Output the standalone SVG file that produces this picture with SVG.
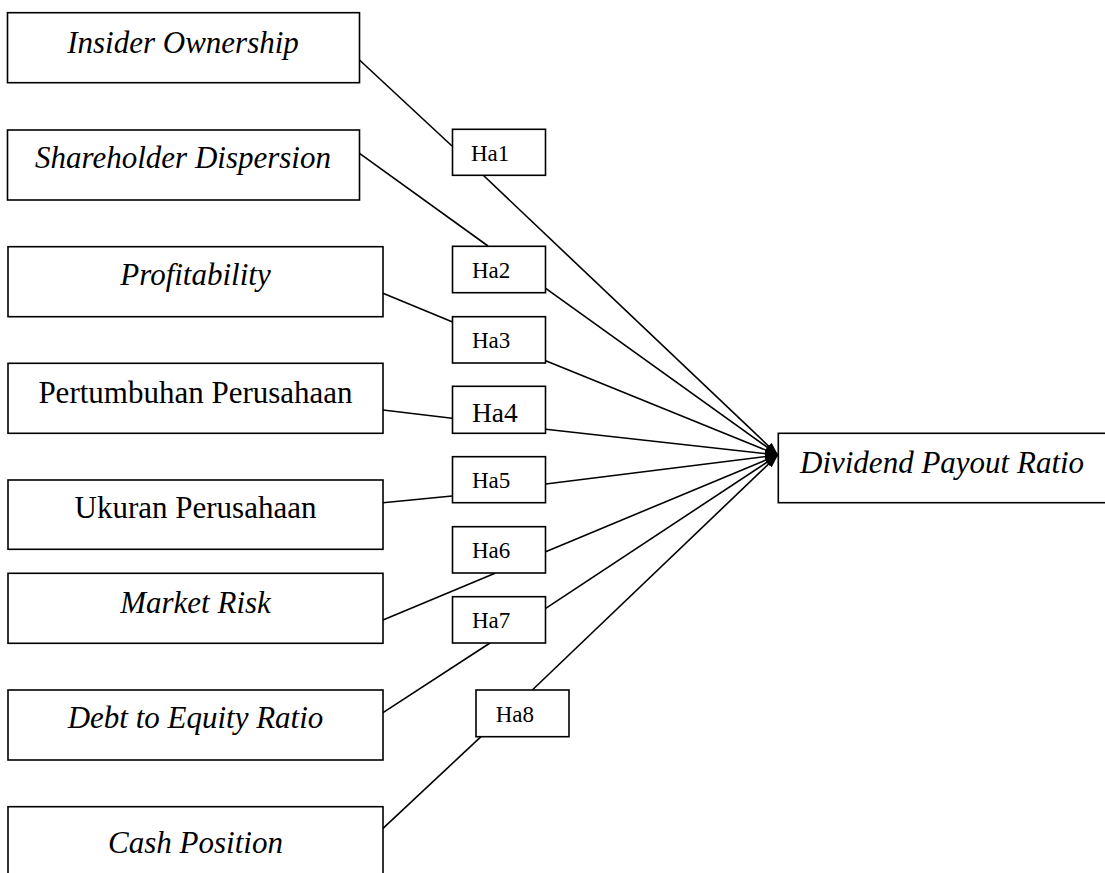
<svg xmlns="http://www.w3.org/2000/svg" width="1105" height="873" viewBox="0 0 1105 873">
<style>
.box{fill:#fff;stroke:#000;stroke-width:1.6}
.lbl{font-family:"Liberation Serif","Times New Roman",serif;font-size:31px;fill:#000}
.it{font-style:italic}
.mid{text-anchor:middle}
.ha{font-family:"Liberation Serif","Times New Roman",serif;font-size:23px;fill:#000}
.ln{stroke:#000;stroke-width:1.6;fill:none}
</style>
<defs>
<marker id="arr" markerUnits="userSpaceOnUse" markerWidth="14" markerHeight="10" refX="13" refY="4.5" orient="auto">
<path d="M0,0 L13,4.5 L0,9 Z" fill="#000"/>
</marker>
</defs>
<rect x="0" y="0" width="1105" height="873" fill="#fff"/>
<g id="connectors">
<line class="ln" x1="359.5" y1="60" x2="452" y2="146"/>
<line class="ln" x1="483" y1="175" x2="778" y2="455" marker-end="url(#arr)"/>
<line class="ln" x1="359.5" y1="153.3" x2="488" y2="246"/>
<line class="ln" x1="545.7" y1="288.3" x2="778" y2="455" marker-end="url(#arr)"/>
<line class="ln" x1="383" y1="293.3" x2="452" y2="321.7"/>
<line class="ln" x1="545.7" y1="360.7" x2="778" y2="455" marker-end="url(#arr)"/>
<line class="ln" x1="383" y1="410" x2="452" y2="418.3"/>
<line class="ln" x1="545.7" y1="429.3" x2="778" y2="455" marker-end="url(#arr)"/>
<line class="ln" x1="383" y1="502.7" x2="452" y2="496"/>
<line class="ln" x1="545.7" y1="484" x2="778" y2="455" marker-end="url(#arr)"/>
<line class="ln" x1="383" y1="620" x2="495" y2="573.3"/>
<line class="ln" x1="545.7" y1="551.7" x2="778" y2="455" marker-end="url(#arr)"/>
<line class="ln" x1="383" y1="712.7" x2="490" y2="643"/>
<line class="ln" x1="545.7" y1="608.3" x2="778" y2="455" marker-end="url(#arr)"/>
<line class="ln" x1="383" y1="828.3" x2="481" y2="736.7"/>
<line class="ln" x1="532.3" y1="690" x2="778" y2="455" marker-end="url(#arr)"/>
</g>
<g id="n-insider"><rect class="box" x="7.5" y="12.7" width="352" height="70"/><text class="lbl it mid" x="183" y="53.3">Insider Ownership</text></g>
<g id="n-shareholder"><rect class="box" x="7.5" y="130" width="352" height="70"/><text class="lbl it mid" x="183" y="168.3">Shareholder Dispersion</text></g>
<g id="n-profitability"><rect class="box" x="8" y="246.7" width="375" height="70"/><text class="lbl it mid" x="195.5" y="285">Profitability</text></g>
<g id="n-pertumbuhan"><rect class="box" x="8" y="363.3" width="375" height="70"/><text class="lbl mid" x="195.5" y="403.3">Pertumbuhan Perusahaan</text></g>
<g id="n-ukuran"><rect class="box" x="8" y="480" width="375" height="69.3"/><text class="lbl mid" x="195.5" y="518.3">Ukuran Perusahaan</text></g>
<g id="n-market"><rect class="box" x="8" y="573.3" width="375" height="70"/><text class="lbl it mid" x="195.5" y="612.7">Market Risk</text></g>
<g id="n-debt"><rect class="box" x="8" y="690" width="375" height="70"/><text class="lbl it mid" x="195.5" y="728.3">Debt to Equity Ratio</text></g>
<g id="n-cash"><rect class="box" x="8" y="806.7" width="375" height="80"/><text class="lbl it mid" x="195.5" y="853.3">Cash Position</text></g>
<g id="n-dpr"><rect class="box" x="778.3" y="433.3" width="340" height="69.4"/><text class="lbl it" x="800" y="473.3">Dividend Payout Ratio</text></g>
<g id="h1"><rect class="box" x="452.5" y="129.3" width="93" height="46"/><text class="ha" x="471" y="160.8">Ha1</text></g>
<g id="h2"><rect class="box" x="452.5" y="246.3" width="93" height="46.4"/><text class="ha" x="472" y="277.7">Ha2</text></g>
<g id="h3"><rect class="box" x="452.5" y="316.7" width="93" height="46.3"/><text class="ha" x="472" y="347.7">Ha3</text></g>
<g id="h4"><rect class="box" x="452.5" y="386.3" width="93" height="47"/><text class="ha" x="472" y="421.7" style="font-size:27.5px">Ha4</text></g>
<g id="h5"><rect class="box" x="452.5" y="456.7" width="93" height="46"/><text class="ha" x="472" y="488.3">Ha5</text></g>
<g id="h6"><rect class="box" x="452.5" y="526.7" width="93" height="46.3"/><text class="ha" x="472" y="557.7">Ha6</text></g>
<g id="h7"><rect class="box" x="452.5" y="596.7" width="93" height="46.3"/><text class="ha" x="472" y="628.3">Ha7</text></g>
<g id="h8"><rect class="box" x="476" y="690" width="93" height="46.7"/><text class="ha" x="495.7" y="721.7">Ha8</text></g>
</svg>
